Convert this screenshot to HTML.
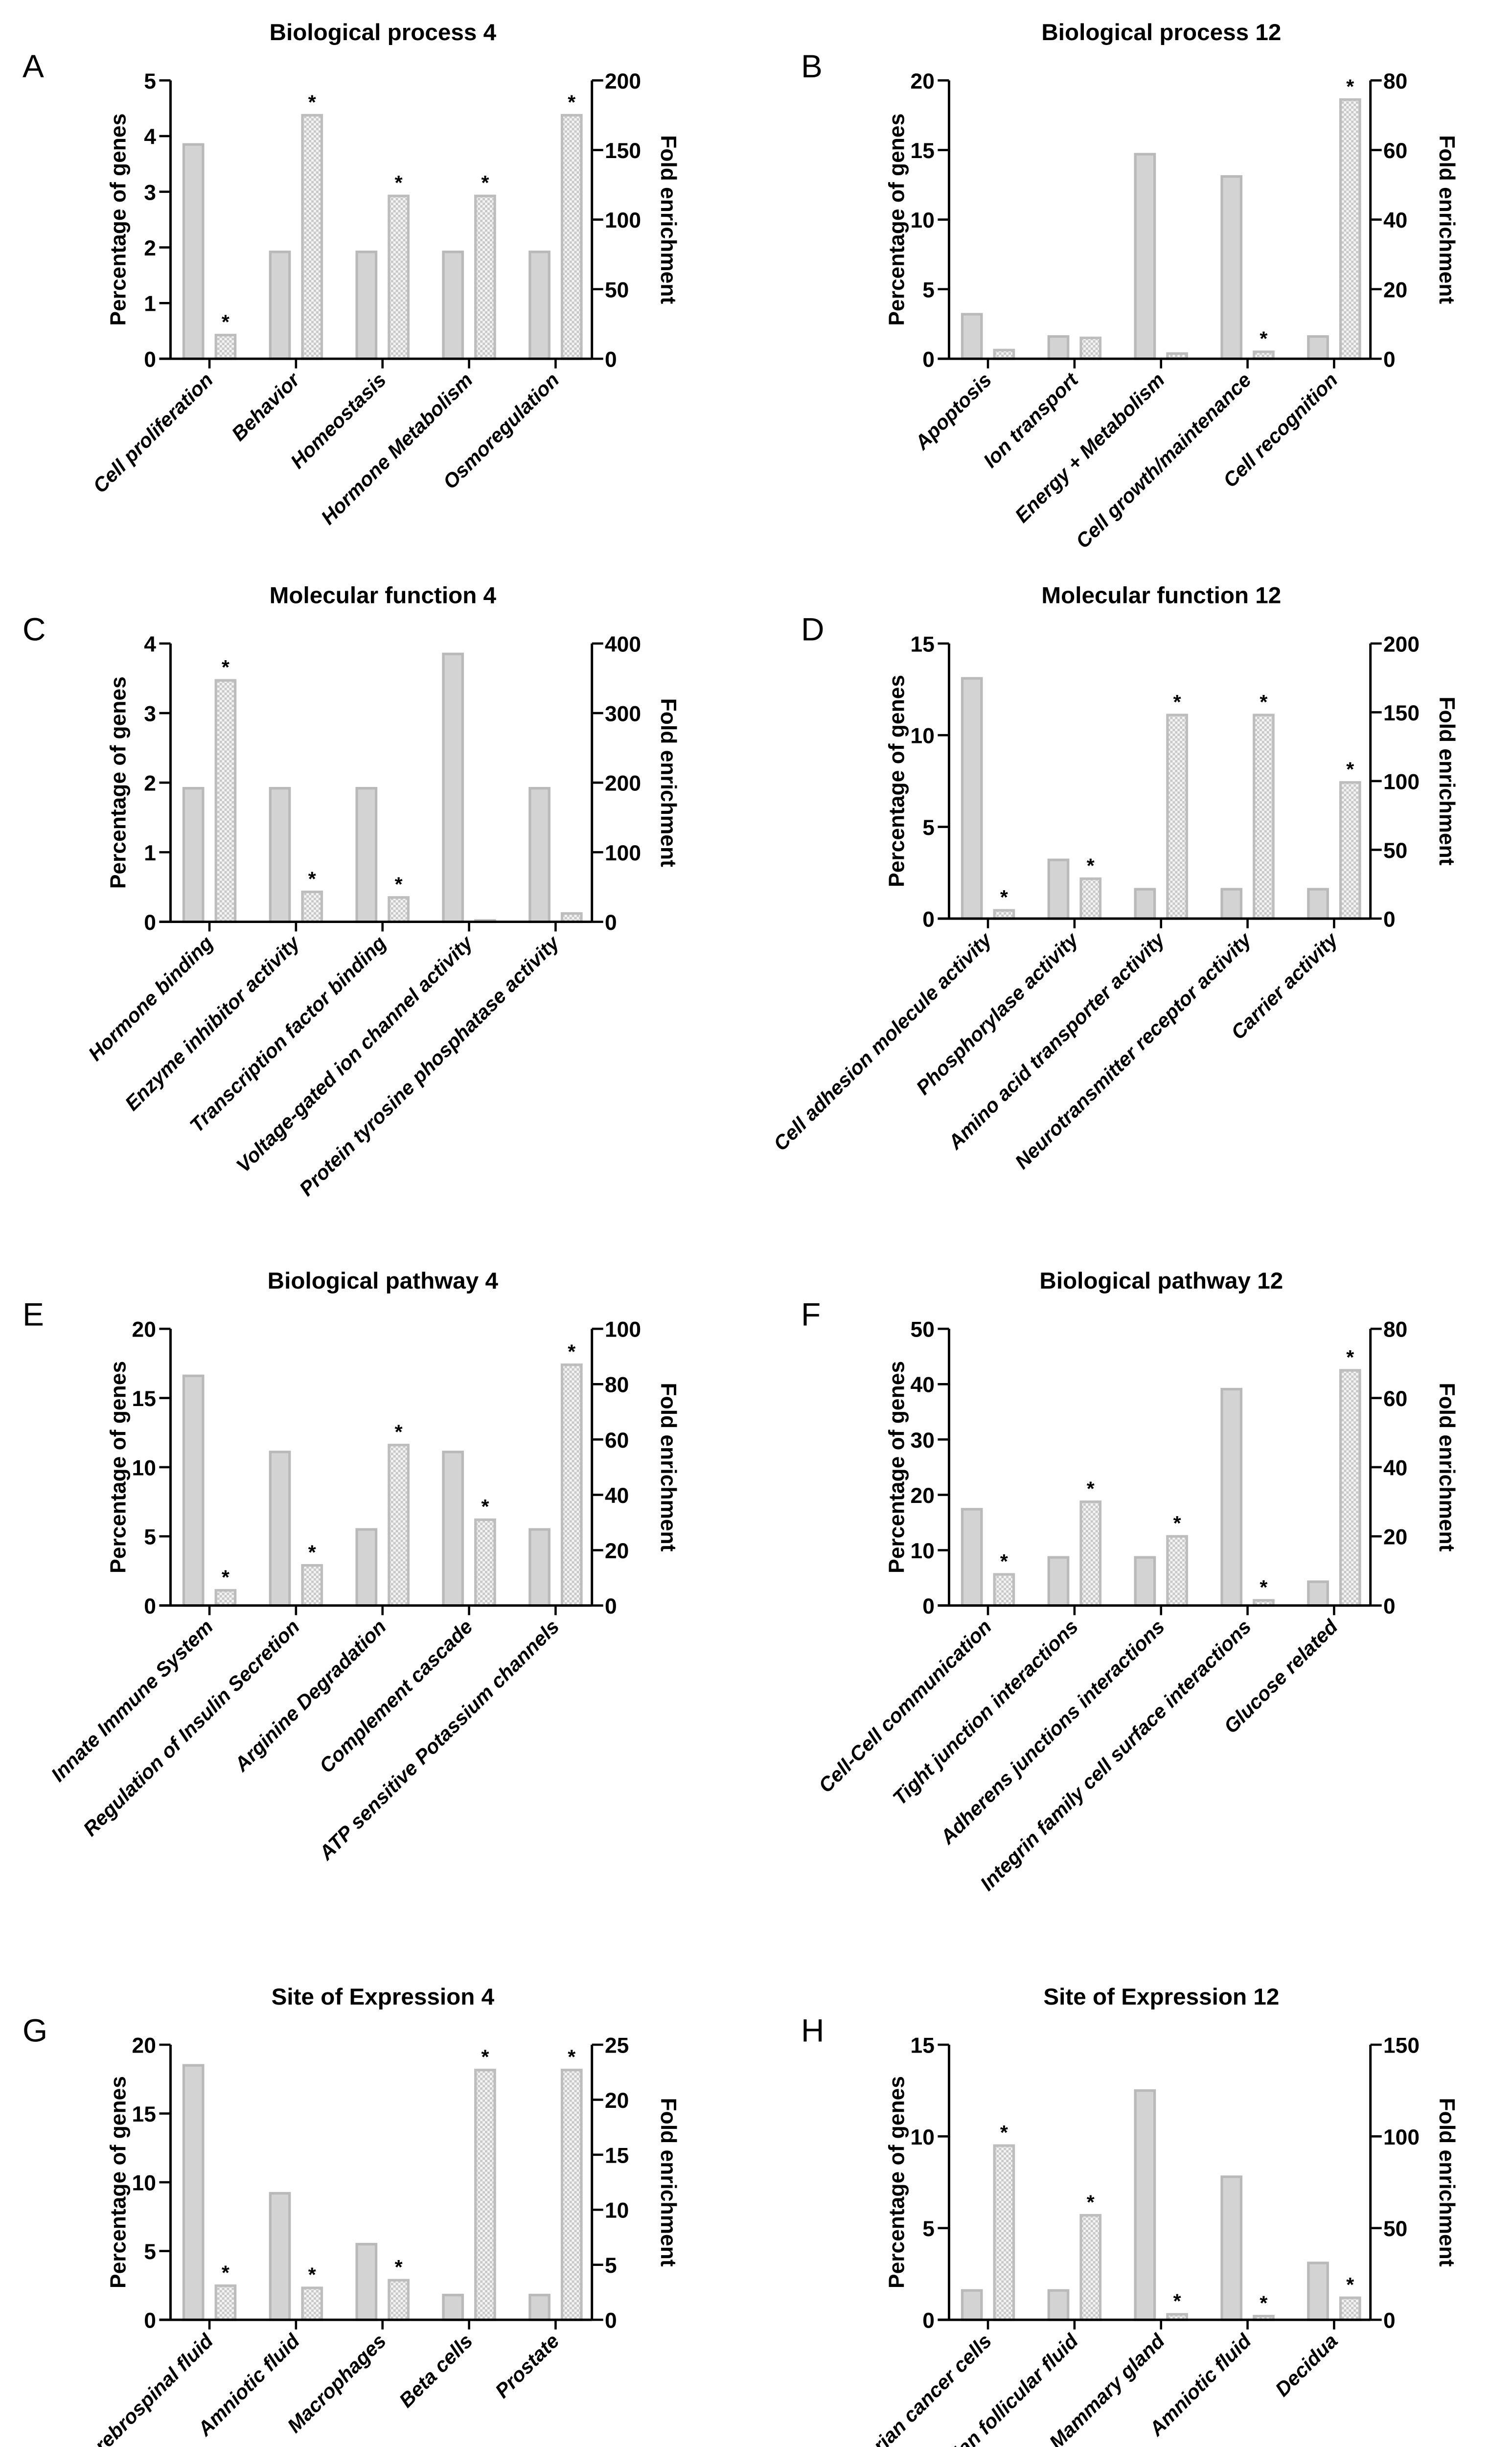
<!DOCTYPE html>
<html><head><meta charset="utf-8"><style>
html,body{margin:0;padding:0;background:#fff;overflow:hidden;}
svg{display:block;}
text{font-family:"Liberation Sans",Arial,sans-serif;fill:#000;}
</style></head><body>
<svg id="fig" xmlns="http://www.w3.org/2000/svg" width="3090" height="5127" viewBox="0 0 940 1559.7">
<defs>
<pattern id="chk" width="3" height="3" patternUnits="userSpaceOnUse">
<rect width="3" height="3" fill="#f4f4f4"/><rect width="1.5" height="1.5" fill="#c8c8c8"/><rect x="1.5" y="1.5" width="1.5" height="1.5" fill="#c8c8c8"/>
</pattern>
</defs>
</svg>
<script>
// Panel A
const catsA = ["Cell proliferation","Behavior","Homeostasis","Hormone Metabolism","Osmoregulation"];
const pctA = [3.85,1.92,1.92,1.92,1.92];
const foldA = [17,175,117,117,175];
const starsA = [1,1,1,1,1];
const leftTicksA = [0,1,2,3,4,5];
const rightTicksA = [0,50,100,150,200];
// Panel B
const catsB = ["Apoptosis","Ion transport","Energy + Metabolism","Cell growth/maintenance","Cell recognition"];
const pctB = [3.2,1.6,14.7,13.1,1.6];
const foldB = [2.5,6,1.5,2,74.5];
const starsB = [0,0,0,1,1];
const leftTicksB = [0,5,10,15,20];
const rightTicksB = [0,20,40,60,80];
// Panel C
const catsC = ["Hormone binding","Enzyme inhibitor activity","Transcription factor binding","Voltage-gated ion channel activity","Protein tyrosine phosphatase activity"];
const pctC = [1.92,1.92,1.92,3.85,1.92];
const foldC = [347,43,35,2,12];
const starsC = [1,1,1,0,0];
const leftTicksC = [0,1,2,3,4];
const rightTicksC = [0,100,200,300,400];
// Panel D
const catsD = ["Cell adhesion molecule activity","Phosphorylase activity","Amino acid transporter activity","Neurotransmitter receptor activity","Carrier activity"];
const pctD = [13.1,3.2,1.6,1.6,1.6];
const foldD = [6,29,148,148,99];
const starsD = [1,1,1,1,1];
const leftTicksD = [0,5,10,15];
const rightTicksD = [0,50,100,150,200];
// Panel E
const catsE = ["Innate Immune System","Regulation of Insulin Secretion","Arginine Degradation","Complement cascade","ATP sensitive Potassium channels"];
const pctE = [16.6,11.1,5.5,11.1,5.5];
const foldE = [5.5,14.5,58,31,87];
const starsE = [1,1,1,1,1];
const leftTicksE = [0,5,10,15,20];
const rightTicksE = [0,20,40,60,80,100];
// Panel F
const catsF = ["Cell-Cell communication","Tight junction interactions","Adherens junctions interactions","Integrin family cell surface interactions","Glucose related"];
const pctF = [17.4,8.7,8.7,39.1,4.3];
const foldF = [9,30,20,1.5,68];
const starsF = [1,1,1,1,1];
const leftTicksF = [0,10,20,30,40,50];
const rightTicksF = [0,20,40,60,80];
// Panel G
const catsG = ["Cerebrospinal fluid","Amniotic fluid","Macrophages","Beta cells","Prostate"];
const pctG = [18.5,9.2,5.5,1.8,1.8];
const foldG = [3.1,2.9,3.6,22.7,22.7];
const starsG = [1,1,1,1,1];
const leftTicksG = [0,5,10,15,20];
const rightTicksG = [0,5,10,15,20,25];
// Panel H
const catsH = ["Ovarian cancer cells","Ovarian follicular fluid","Mammary gland","Amniotic fluid","Decidua"];
const pctH = [1.6,1.6,12.5,7.8,3.1];
const foldH = [95,57,3,2,12];
const starsH = [1,1,1,1,1];
const leftTicksH = [0,5,10,15];
const rightTicksH = [0,50,100,150];

const NS = "http://www.w3.org/2000/svg";
const svg = document.getElementById('fig');
function mk(parent, tag, attrs, txt){
  const e = document.createElementNS(NS, tag);
  for (const k in attrs) e.setAttribute(k, attrs[k]);
  if (txt !== undefined) e.textContent = txt;
  parent.appendChild(e);
  return e;
}

function panel(id, letter, title, cats, pct, fold, stars, lt, rt, L, top, bot){
  const R = L + 262;
  const g = mk(svg, 'g', {});
  
  
  const yL = v => bot - (v / lt[lt.length-1]) * (bot - top);
  const yR = v => bot - (v / rt[rt.length-1]) * (bot - top);
  const xC = i => L + (R - L) * (i + 0.45) / 4.87;

  let t = mk(g, 'text', {x: L + 132, y: top - 25, 'font-size': 14.5, 'font-weight': 'bold', 'text-anchor': 'middle'}, title);
  
  
  t = mk(g, 'text', {x: L - 92, y: top - 2, 'font-size': 20}, letter);
  
  

  cats.forEach((c, i) => {
    const cx = xC(i);
    const y1 = yL(pct[i]);
    let b = mk(g, 'rect', {x: cx - 16, y: y1, width: 12, height: bot - y1, fill: '#d3d3d3', stroke: '#b9b9b9', 'stroke-width': 1.6});
    
    
    const y2 = yR(fold[i]);
    b = mk(g, 'rect', {x: cx + 4, y: y2, width: 12, height: bot - y2, fill: 'url(#chk)', stroke: '#bdbdbd', 'stroke-width': 1.6});
    
    
    if (stars[i]) {
      const s = mk(g, 'text', {x: cx + 10, y: y2 - 4, 'font-size': 12.5, 'font-weight': 'bold', 'text-anchor': 'middle'}, '*');
      
      
    }
    const tk = mk(g, 'line', {x1: cx, x2: cx, y1: bot, y2: bot + 6, stroke: '#000', 'stroke-width': 1.4});
    
    
    const lb = mk(g, 'text', {x: cx + 3, y: bot + 14, 'font-size': 12.5, 'font-weight': 'bold', 'font-style': 'italic', 'text-anchor': 'end', transform: 'rotate(-45 ' + (cx + 3) + ' ' + (bot + 14) + ')'}, c);
    
    
  });

  let a = mk(g, 'line', {x1: L, x2: L, y1: top, y2: bot, stroke: '#000', 'stroke-width': 1.5});
  
  
  a = mk(g, 'line', {x1: R, x2: R, y1: top, y2: bot, stroke: '#000', 'stroke-width': 1.5});
  
  
  a = mk(g, 'line', {x1: L - 7, x2: R, y1: bot, y2: bot, stroke: '#000', 'stroke-width': 1.5});
  
  

  lt.forEach(v => {
    const y = yL(v);
    let l = mk(g, 'line', {x1: L - 7, x2: L, y1: y, y2: y, stroke: '#000', 'stroke-width': 1.4});
    
    
    l = mk(g, 'text', {x: L - 9, y: y + 5, 'font-size': 13.5, 'font-weight': 'bold', 'text-anchor': 'end'}, String(v));
    
    
  });
  rt.forEach(v => {
    const y = yR(v);
    let l = mk(g, 'line', {x1: R, x2: R + 7, y1: y, y2: y, stroke: '#000', 'stroke-width': 1.4});
    
    
    l = mk(g, 'text', {x: R + 8, y: y + 5, 'font-size': 13.5, 'font-weight': 'bold', 'text-anchor': 'start'}, String(v));
    
    
  });
  const my = (top + bot) / 2;
  t = mk(g, 'text', {x: L - 28, y: my, 'font-size': 13.5, 'font-weight': 'bold', 'text-anchor': 'middle', transform: 'rotate(-90 ' + (L - 28) + ' ' + my + ')'}, 'Percentage of genes');
  
  
  t = mk(g, 'text', {x: R + 43, y: my, 'font-size': 13.5, 'font-weight': 'bold', 'text-anchor': 'middle', transform: 'rotate(90 ' + (R + 43) + ' ' + my + ')'}, 'Fold enrichment');
  
  
}

panel('a','A','Biological process 4',catsA,pctA,foldA,starsA,leftTicksA,rightTicksA,106,50,223);
panel('b','B','Biological process 12',catsB,pctB,foldB,starsB,leftTicksB,rightTicksB,590,50,223);
panel('c','C','Molecular function 4',catsC,pctC,foldC,starsC,leftTicksC,rightTicksC,106,400,573);
panel('d','D','Molecular function 12',catsD,pctD,foldD,starsD,leftTicksD,rightTicksD,590,400,571);
panel('e','E','Biological pathway 4',catsE,pctE,foldE,starsE,leftTicksE,rightTicksE,106,826,998);
panel('f','F','Biological pathway 12',catsF,pctF,foldF,starsF,leftTicksF,rightTicksF,590,826,998);
panel('g','G','Site of Expression 4',catsG,pctG,foldG,starsG,leftTicksG,rightTicksG,106,1271,1442);
panel('h','H','Site of Expression 12',catsH,pctH,foldH,starsH,leftTicksH,rightTicksH,590,1271,1442);
</script>
</body></html>
